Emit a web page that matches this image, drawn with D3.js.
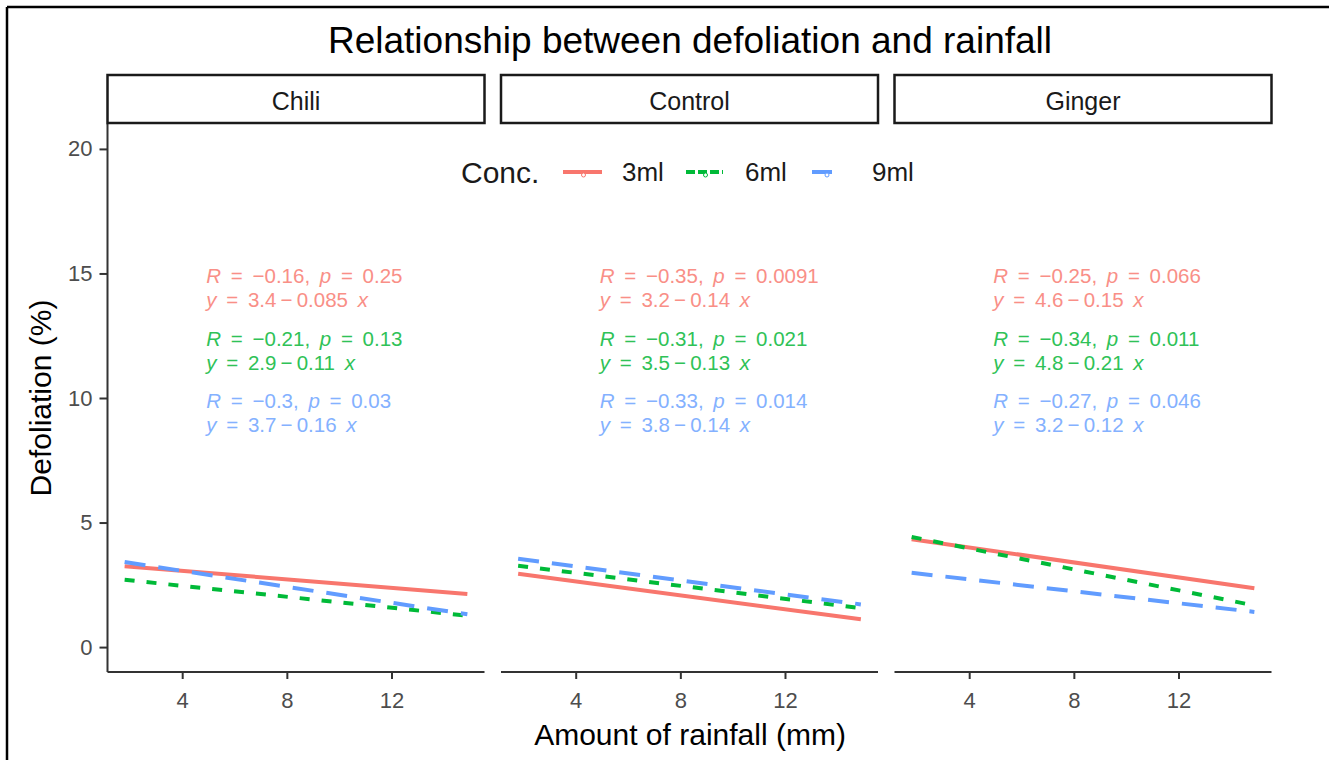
<!DOCTYPE html>
<html lang="en">
  <head>
    <meta charset="UTF-8" />
    <title>Relationship between defoliation and rainfall</title>
    <style>
      body { margin: 0; background: #fff; }
      text { font-family: "Liberation Sans", Arial, sans-serif; }
    </style>
  </head>
  <body>
    <svg id="svg" width="1329" height="760"></svg>

    <script src="https://d3js.org/d3.v7.min.js"></script>
    <script>
      // panels and series
      const panels = ["Chili", "Control", "Ginger"];
      const concs = ["3ml", "6ml", "9ml"];
      const colors = ["#F8766D", "#00BA38", "#619CFF"];
      const textColors = ["#f98f87", "#2fc257", "#84b1ff"];
      const dashes = [null, "10,12", "21,13"];

      // regression results per panel (rows) and concentration (cols)
      const intercepts = [[3.4, 2.9, 3.7], [3.2, 3.5, 3.8], [4.6, 4.8, 3.2]];
      const slopes = [[-0.085, -0.11, -0.16], [-0.14, -0.13, -0.14], [-0.15, -0.21, -0.12]];
      const rLabels = [["−0.16", "−0.21", "−0.3"], ["−0.35", "−0.31", "−0.33"], ["−0.25", "−0.34", "−0.27"]];
      const pLabels = [["0.25", "0.13", "0.03"], ["0.0091", "0.021", "0.014"], ["0.066", "0.011", "0.046"]];
      const aLabels = [["3.4", "2.9", "3.7"], ["3.2", "3.5", "3.8"], ["4.6", "4.8", "3.2"]];
      const bLabels = [["0.085", "0.11", "0.16"], ["0.14", "0.13", "0.14"], ["0.15", "0.21", "0.12"]];

      const xRange = [1.8, 14.9];
      const xTicks = [4, 8, 12];
      const yTicks = [0, 5, 10, 15, 20];
      const labelX = 5;
      const labelY = [15, 12.5, 10];

      const svg = d3.select("#svg");

      // outer frame (top + left visible)
      svg.append("line").attr("x1", 7).attr("x2", 1329).attr("y1", 7).attr("y2", 7)
        .attr("stroke", "#000").attr("stroke-width", 2.5);
      svg.append("line").attr("x1", 7).attr("x2", 7).attr("y1", 7).attr("y2", 760)
        .attr("stroke", "#000").attr("stroke-width", 2.5);

      svg.append("text").attr("x", 690).attr("y", 53).attr("text-anchor", "middle")
        .attr("font-size", 37).attr("fill", "#000")
        .text("Relationship between defoliation and rainfall");

      const panelW = 377, gap = 16.5, left0 = 107.5;
      const plotTop = 124, plotBottom = 672;
      const span = xRange[1] - xRange[0];
      const y = d3.scaleLinear().domain([-1, 21]).range([plotBottom, plotTop]);

      // y axis on first panel
      const yAxis = svg.append("g").attr("transform", `translate(${left0},0)`)
        .call(d3.axisLeft(y).tickValues(yTicks).tickSize(8).tickPadding(7));
      yAxis.select(".domain").remove();
      yAxis.append("line").attr("x1", 0).attr("x2", 0).attr("y1", plotTop).attr("y2", plotBottom)
        .attr("stroke", "#333").attr("stroke-width", 2);
      yAxis.selectAll(".tick line").attr("stroke", "#333").attr("stroke-width", 2);
      yAxis.selectAll(".tick text").attr("font-size", 22).attr("fill", "#4d4d4d")
        .attr("font-family", "Liberation Sans, Arial, sans-serif");

      panels.forEach((name, i) => {
        const x0 = left0 + i * (panelW + gap);
        const x = d3.scaleLinear()
          .domain([xRange[0] - span * 0.05, xRange[1] + span * 0.05])
          .range([x0, x0 + panelW]);

        // strip
        svg.append("rect").attr("x", x0).attr("y", 75).attr("width", panelW).attr("height", 48)
          .attr("fill", "#fff").attr("stroke", "#1a1a1a").attr("stroke-width", 2.5);
        svg.append("text").attr("x", x0 + panelW / 2).attr("y", 110).attr("text-anchor", "middle")
          .attr("font-size", 25).attr("fill", "#1a1a1a").text(name);

        // x axis
        const xAxis = svg.append("g").attr("transform", `translate(0,${plotBottom})`)
          .call(d3.axisBottom(x).tickValues(xTicks).tickSize(7).tickPadding(13));
        xAxis.select(".domain").remove();
        xAxis.append("line").attr("x1", x0).attr("x2", x0 + panelW)
          .attr("stroke", "#333").attr("stroke-width", 2);
        xAxis.selectAll(".tick line").attr("stroke", "#333").attr("stroke-width", 2);
        xAxis.selectAll(".tick text").attr("font-size", 22).attr("fill", "#4d4d4d")
          .attr("font-family", "Liberation Sans, Arial, sans-serif");

        // regression lines
        const line = d3.line().x((d) => x(d[0])).y((d) => y(d[1]));
        concs.forEach((c, j) => {
          const pts = xRange.map((v) => [v, intercepts[i][j] + slopes[i][j] * v]);
          svg.append("path").datum(pts).attr("d", line)
            .attr("fill", "none").attr("stroke", colors[j]).attr("stroke-width", 4)
            .attr("stroke-dasharray", dashes[j]);
        });

        // labels
        concs.forEach((c, j) => {
          const tx = x(labelX) - 2, ty = y(labelY[j]) + 10;
          const t1 = svg.append("text").attr("x", tx).attr("y", ty)
            .attr("font-size", 20.5).attr("word-spacing", 4).attr("fill", textColors[j]);
          t1.append("tspan").attr("font-style", "italic").text("R");
          t1.append("tspan").text(` = ${rLabels[i][j]}, `);
          t1.append("tspan").attr("font-style", "italic").text("p");
          t1.append("tspan").text(` = ${pLabels[i][j]}`);
          const t2 = svg.append("text").attr("x", tx).attr("y", ty + 24)
            .attr("font-size", 20.5).attr("word-spacing", 4).attr("fill", textColors[j]);
          t2.append("tspan").attr("font-style", "italic").text("y");
          t2.append("tspan").text(` = ${aLabels[i][j]}\u2009−\u2009${bLabels[i][j]} `);
          t2.append("tspan").attr("font-style", "italic").text("x");
        });
      });

      // legend
      const lg = svg.append("g");
      lg.append("text").attr("x", 461).attr("y", 183).attr("font-size", 30).attr("fill", "#1a1a1a").text("Conc.");
      const keyX = [563, 686, 812];
      const keyW = [39, 37, 28];
      const labX = [622, 745, 872];
      concs.forEach((c, j) => {
        lg.append("line").attr("x1", keyX[j]).attr("x2", keyX[j] + keyW[j])
          .attr("y1", 172).attr("y2", 172)
          .attr("stroke", colors[j]).attr("stroke-width", 4)
          .attr("stroke-dasharray", j === 0 ? null : j === 1 ? "9,3" : "20,8");
        lg.append("circle").attr("cx", keyX[j] + keyW[j] / 2 + 1).attr("cy", 175).attr("r", 2)
          .attr("fill", "#fff").attr("stroke", colors[j]).attr("stroke-width", 1);
        lg.append("text").attr("x", labX[j]).attr("y", 181).attr("font-size", 26)
          .attr("fill", "#1a1a1a").text(c);
      });

      // axis titles
      svg.append("text").attr("x", 690).attr("y", 745).attr("text-anchor", "middle")
        .attr("font-size", 30).attr("fill", "#000").text("Amount of rainfall (mm)");
      svg.append("text").attr("transform", `translate(51,${(plotTop + plotBottom) / 2}) rotate(-90)`)
        .attr("text-anchor", "middle").attr("font-size", 30).attr("fill", "#000")
        .text("Defoliation (%)");
    </script>
  </body>
</html>
